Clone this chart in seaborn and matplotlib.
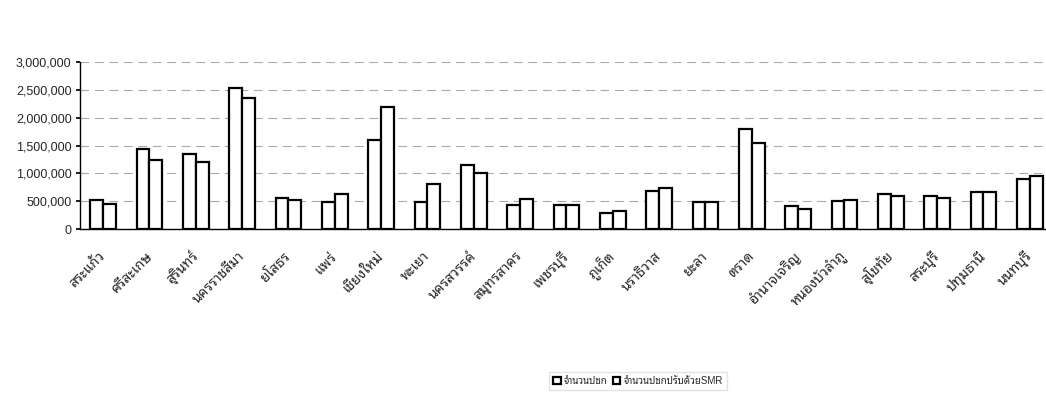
import matplotlib
matplotlib.use("Agg")
import matplotlib.pyplot as plt
import seaborn as sns
import pandas as pd
from matplotlib.ticker import FuncFormatter

provinces = ["สระแก้ว", "ศรีสะเกษ", "สุรินทร์", "นครราชสีมา", "ยโสธร", "แพร่", "เชียงใหม่",
             "พะเยา", "นครสวรรค์", "สมุทรสาคร", "เพชรบุรี", "ภูเก็ต", "นราธิวาส", "ยะลา",
             "ตราด", "อำนาจเจริญ", "หนองบัวลำภู", "สุโขทัย", "สระบุรี", "ปทุมธานี", "นนทบุรี"]
population = [525000, 1430000, 1350000, 2540000, 560000, 490000, 1600000,
              490000, 1150000, 430000, 435000, 280000, 690000, 480000,
              1800000, 405000, 510000, 630000, 590000, 670000, 900000]
population_smr = [454000, 1240000, 1200000, 2350000, 525000, 630000, 2200000,
                  800000, 1000000, 540000, 435000, 330000, 730000, 480000,
                  1540000, 360000, 520000, 590000, 555000, 670000, 950000]
series_names = ["จำนวนปชก", "จำนวนปชกปรับด้วยSMR"]
y_ticks = [0, 500000, 1000000, 1500000, 2000000, 2500000, 3000000]

df = pd.DataFrame({
    "province": provinces * 2,
    "value": population + population_smr,
    "series": [series_names[0]] * len(provinces) + [series_names[1]] * len(provinces),
})

sns.set_theme(style="white")
plt.rcParams["font.family"] = ["Liberation Sans", "Noto Sans Thai Looped", "Loma", "DejaVu Sans"]

fig = plt.figure(figsize=(10.46, 4.12), dpi=100)
ax = fig.add_axes([80 / 1046, 1 - 229 / 412, 1 - 80 / 1046, (229 - 62) / 412])

sns.barplot(data=df, x="province", y="value", hue="series", order=provinces,
            hue_order=series_names, palette=["white", "white"], edgecolor="black",
            linewidth=1.6, width=0.55, ax=ax, legend=True)

ax.set_ylim(0, 3000000)
ax.set_xlim(-0.5, 20.35)
ax.set_yticks(y_ticks)
ax.yaxis.set_major_formatter(FuncFormatter(lambda v, p: f"{int(v):,}"))
ax.tick_params(axis="y", labelsize=9, length=3, left=True, color="black", pad=3)
ax.tick_params(axis="x", labelsize=10, length=0, pad=18)
ax.set_xlabel("")
ax.set_ylabel("")
for lab in ax.get_xticklabels():
    lab.set_rotation(45)
    lab.set_ha("right")
    lab.set_va("center")
    lab.set_rotation_mode("anchor")
ax.grid(axis="y", linestyle=(0, (8, 5)), color="#aaaaaa", linewidth=0.8)
ax.set_axisbelow(True)
for s in ["top", "right"]:
    ax.spines[s].set_visible(False)
for s in ["left", "bottom"]:
    ax.spines[s].set_color("black")
    ax.spines[s].set_linewidth(1.0)

handles, labels = ax.get_legend_handles_labels()
ax.get_legend().remove()
fig.legend(handles, labels, loc="center", bbox_to_anchor=(0.61, 0.075), ncol=2,
           fontsize=7, frameon=True, edgecolor="#dddddd", fancybox=False,
           handlelength=0.8, handleheight=0.8, columnspacing=0.5, handletextpad=0.3,
           borderpad=0.4)

fig.savefig("out.png", dpi=100, facecolor="white")
